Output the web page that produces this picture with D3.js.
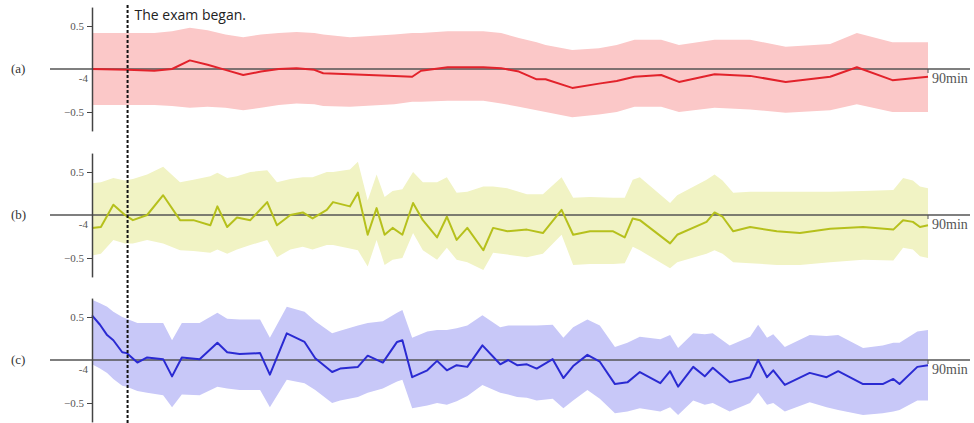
<!DOCTYPE html>
<html>
<head>
<meta charset="utf-8">
<script src="https://cdn.jsdelivr.net/npm/d3@7"></script>
<style>
  body { margin: 0; background: #fff; }
</style>
</head>
<body>
<div id="vis"></div>
<script>
// minutes (exam starts at 0), mean and band edges
const minutesA = [-4,0,3,5,7,9,11,13,15,17,19,21,22,25,30,32,33,36,40,42,44,46,47,50,53,55,57,60,62,66,70,74,79,82,86,90];
const meanA  = [0,-0.01,-0.02,0,0.10,0.05,-0.01,-0.07,-0.03,0,0.01,-0.01,-0.05,-0.06,-0.08,-0.09,-0.02,0.02,0.02,0.01,-0.03,-0.12,-0.12,-0.22,-0.17,-0.14,-0.09,-0.07,-0.15,-0.06,-0.08,-0.15,-0.09,0.02,-0.13,-0.09];
const upperA = [0.42,0.42,0.42,0.44,0.48,0.45,0.40,0.37,0.40,0.42,0.43,0.42,0.40,0.37,0.40,0.42,0.42,0.44,0.44,0.42,0.36,0.31,0.28,0.22,0.24,0.28,0.34,0.34,0.28,0.34,0.34,0.26,0.29,0.42,0.31,0.31];
const lowerA = [-0.42,-0.42,-0.42,-0.43,-0.45,-0.44,-0.45,-0.48,-0.45,-0.42,-0.40,-0.41,-0.43,-0.44,-0.41,-0.38,-0.38,-0.37,-0.37,-0.40,-0.44,-0.48,-0.50,-0.56,-0.53,-0.50,-0.44,-0.44,-0.50,-0.45,-0.47,-0.51,-0.48,-0.41,-0.50,-0.50];

const minutesB = [-4,-3,-1.6,-0.3,0.6,2.2,4,5.9,7.4,9.3,10.1,11.2,12.3,13.8,15.7,16.8,18.3,19.7,20.8,22.4,23.1,25,25.9,27,28,28.9,29.8,30.9,32.1,33.2,34.8,35.9,37,38.2,40,41.1,42.7,44.9,46.7,48.8,50.1,52,54.6,55.9,56.8,57.6,61,61.8,65.1,66,66.9,68.1,70,73,75.6,79,82.7,86.1,87.2,88.3,89.1,90];
const meanB  = [-0.15,-0.14,0.12,0,-0.06,0,0.23,-0.06,-0.06,-0.12,0.10,-0.14,-0.03,-0.06,0.15,-0.12,0,0.03,-0.04,0.06,0.15,0.10,0.26,-0.23,0.08,-0.23,-0.15,-0.23,0.14,-0.06,-0.26,-0.02,-0.29,-0.15,-0.41,-0.15,-0.19,-0.17,-0.21,0.06,-0.23,-0.19,-0.19,-0.26,-0.04,-0.06,-0.33,-0.23,-0.08,0.03,-0.02,-0.19,-0.14,-0.19,-0.21,-0.16,-0.14,-0.17,-0.06,-0.08,-0.14,-0.12];
const upperB = [0.37,0.38,0.43,0.40,0.42,0.47,0.56,0.38,0.41,0.45,0.49,0.43,0.45,0.50,0.52,0.38,0.42,0.44,0.44,0.50,0.50,0.53,0.62,0.17,0.47,0.21,0.28,0.30,0.50,0.38,0.38,0.44,0.26,0.27,0.33,0.33,0.31,0.24,0.24,0.44,0.20,0.21,0.20,0.20,0.41,0.44,0.14,0.23,0.41,0.47,0.40,0.26,0.27,0.27,0.27,0.27,0.28,0.29,0.43,0.40,0.33,0.31];
const lowerB = [-0.47,-0.45,-0.29,-0.33,-0.33,-0.29,-0.33,-0.41,-0.42,-0.44,-0.40,-0.45,-0.40,-0.35,-0.29,-0.49,-0.40,-0.37,-0.40,-0.35,-0.35,-0.39,-0.41,-0.60,-0.29,-0.58,-0.52,-0.50,-0.21,-0.41,-0.52,-0.38,-0.52,-0.55,-0.64,-0.44,-0.46,-0.49,-0.45,-0.23,-0.58,-0.57,-0.57,-0.56,-0.37,-0.41,-0.62,-0.55,-0.45,-0.41,-0.45,-0.55,-0.56,-0.58,-0.58,-0.55,-0.52,-0.53,-0.38,-0.40,-0.48,-0.50];

const minutesC = [-4,-3.1,-2.3,-1.6,-0.6,-0.1,1.1,2.2,4,5,6.1,8.1,10.1,11.2,12.6,14.9,16,17.9,19.9,21.1,23,23.9,25.9,27,28.7,30.3,30.9,32,33.7,34.8,35.9,37,38.2,39.9,41.9,42.8,43.8,44.9,46,47.8,49,50.1,51.7,53.1,54.8,56.2,57.6,59.9,61,61.9,63.6,64.9,65.8,67.7,70,70.9,71.9,72.6,73.9,76.7,78.6,79.9,82.7,84.9,86.1,86.8,88.8,90];
const meanC  = [0.52,0.41,0.29,0.23,0.09,0.08,-0.03,0.03,0.01,-0.19,0.03,0.01,0.20,0.09,0.07,0.08,-0.17,0.31,0.21,0.02,-0.14,-0.10,-0.08,0.05,-0.03,0.21,0.23,-0.20,-0.12,-0.01,-0.12,-0.06,-0.08,0.17,-0.05,0,-0.06,-0.05,-0.10,0.01,-0.21,-0.07,0.06,-0.02,-0.28,-0.26,-0.14,-0.27,-0.13,-0.31,-0.08,-0.19,-0.09,-0.26,-0.20,0,-0.20,-0.12,-0.29,-0.15,-0.20,-0.13,-0.28,-0.28,-0.22,-0.28,-0.08,-0.06];
const upperC = [0.70,0.66,0.62,0.56,0.50,0.48,0.43,0.43,0.43,0.23,0.43,0.43,0.55,0.48,0.47,0.47,0.26,0.62,0.56,0.45,0.31,0.34,0.40,0.43,0.45,0.55,0.58,0.26,0.33,0.35,0.35,0.37,0.40,0.52,0.38,0.40,0.40,0.40,0.40,0.41,0.26,0.38,0.47,0.40,0.15,0.20,0.27,0.24,0.29,0.14,0.31,0.30,0.31,0.17,0.27,0.41,0.26,0.30,0.15,0.29,0.28,0.29,0.14,0.17,0.20,0.20,0.33,0.35];
const lowerC = [-0.05,-0.10,-0.15,-0.22,-0.30,-0.31,-0.36,-0.38,-0.41,-0.55,-0.40,-0.41,-0.31,-0.33,-0.35,-0.35,-0.55,-0.23,-0.27,-0.35,-0.50,-0.47,-0.43,-0.38,-0.33,-0.25,-0.23,-0.56,-0.53,-0.50,-0.52,-0.48,-0.42,-0.29,-0.38,-0.40,-0.43,-0.44,-0.47,-0.45,-0.56,-0.47,-0.35,-0.45,-0.62,-0.60,-0.56,-0.60,-0.55,-0.64,-0.47,-0.52,-0.50,-0.60,-0.50,-0.38,-0.52,-0.50,-0.60,-0.49,-0.55,-0.58,-0.64,-0.62,-0.60,-0.58,-0.47,-0.47];

const panelLabels = ["(a)", "(b)", "(c)"];
const yTicks = [0.5, -0.5];
const startLabel = "-4";
const endLabel = "90min";
const examLabel = "The exam began.";

const WIDTH = 974;
const HEIGHT = 423;

const SVG = d3.select("#vis").append("svg")
    .attr("width", WIDTH)
    .attr("height", HEIGHT);

const xScale = d3.scaleLinear()
    .domain([-4, 90])
    .range([92, 928]);

const PANEL_ZERO = [69, 215, 360];
const PX_PER_UNIT = 86;

const panels = [
    { t: minutesA, mean: meanA, up: upperA, lo: lowerA, band: "#fbc8c8", line: "#e2222b" },
    { t: minutesB, mean: meanB, up: upperB, lo: lowerB, band: "#f1f3c4", line: "#b6c01c" },
    { t: minutesC, mean: meanC, up: upperC, lo: lowerC, band: "#c8c8f8", line: "#2a2ad2" },
];

panels.forEach((p, i) => {
    const zero = PANEL_ZERO[i];
    const yScale = d3.scaleLinear()
        .domain([-0.72, 0.72])
        .range([zero + 0.72 * PX_PER_UNIT, zero - 0.72 * PX_PER_UNIT]);

    const rows = p.t.map((t, k) => ({ t, m: p.mean[k], u: p.up[k], l: p.lo[k] }));

    const g = SVG.append("g");

    g.append("path")
        .datum(rows)
        .attr("fill", p.band)
        .attr("d", d3.area()
            .x(d => xScale(d.t))
            .y0(d => yScale(d.l))
            .y1(d => yScale(d.u)));

    // zero reference line
    g.append("line")
        .attr("x1", 50)
        .attr("x2", 970)
        .attr("y1", yScale(0))
        .attr("y2", yScale(0))
        .attr("stroke", "#555")
        .attr("stroke-width", 1.5);

    g.append("path")
        .datum(rows)
        .attr("fill", "none")
        .attr("stroke", p.line)
        .attr("stroke-width", 2)
        .attr("stroke-linejoin", "round")
        .attr("d", d3.line()
            .x(d => xScale(d.t))
            .y(d => yScale(d.m)));

    // small end tick on the zero line
    g.append("line")
        .attr("x1", xScale(90))
        .attr("x2", xScale(90))
        .attr("y1", yScale(0))
        .attr("y2", yScale(0) + 4)
        .attr("stroke", "#555");

    const axis = g.append("g")
        .attr("transform", `translate(${xScale(-4)}, 0)`)
        .call(d3.axisLeft(yScale)
            .tickValues(yTicks)
            .tickSize(5)
            .tickSizeOuter(0)
            .tickFormat(d3.format(".1f")));
    axis.select(".domain").attr("stroke", "#444").attr("stroke-width", 1.5);
    axis.selectAll(".tick line").attr("stroke", "#444");
    axis.selectAll(".tick text")
        .attr("font-family", "Liberation Serif")
        .attr("font-size", 11)
        .attr("fill", "#555");

    g.append("text")
        .text(startLabel)
        .attr("x", xScale(-4) - 4)
        .attr("y", yScale(0) + 13)
        .attr("text-anchor", "end")
        .attr("font-family", "Liberation Serif")
        .attr("font-size", 11)
        .attr("fill", "#555");

    g.append("text")
        .text(endLabel)
        .attr("x", xScale(90) + 4)
        .attr("y", yScale(0) + 14)
        .attr("font-family", "Liberation Serif")
        .attr("font-size", 14)
        .attr("fill", "#555");

    g.append("text")
        .text(panelLabels[i])
        .attr("x", 11)
        .attr("y", yScale(0) + 4)
        .attr("font-family", "Liberation Serif")
        .attr("font-size", 13)
        .attr("fill", "#333");
});

// exam start marker
SVG.append("line")
    .attr("x1", xScale(0))
    .attr("x2", xScale(0))
    .attr("y1", 5)
    .attr("y2", HEIGHT)
    .attr("stroke", "#111")
    .attr("stroke-width", 2)
    .attr("stroke-dasharray", "3,2");

SVG.append("text")
    .text(examLabel)
    .attr("x", xScale(0) + 7)
    .attr("y", 20)
    .attr("font-family", "Open Sans")
    .attr("font-size", 14)
    .attr("fill", "#222");
</script>
</body>
</html>
